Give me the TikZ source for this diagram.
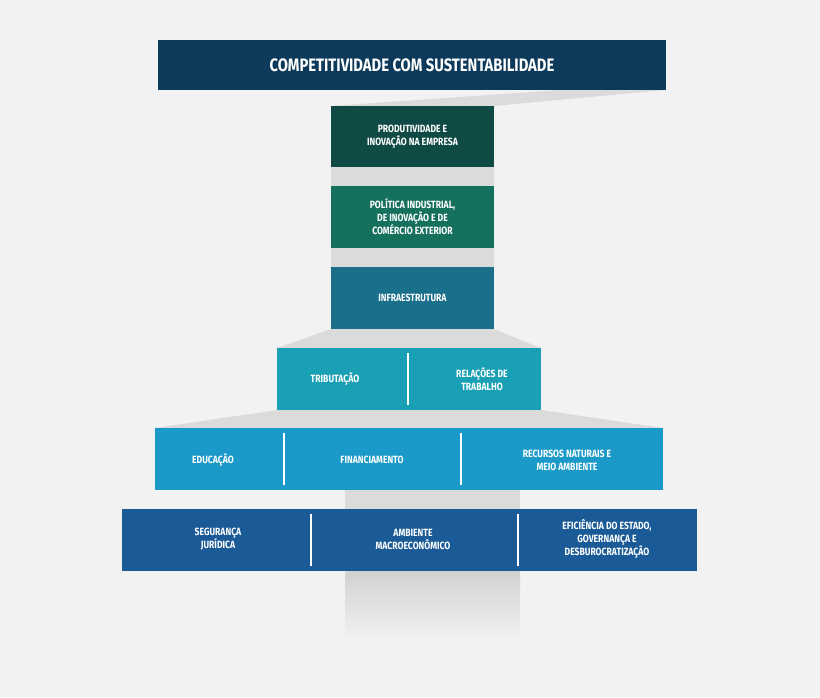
\documentclass[tikz,border=0pt]{standalone}
\usepackage{fontspec}
\setmainfont{Fira Sans}[FakeStretch=0.82]
\begin{document}
\begin{tikzpicture}[x=1pt,y=-1pt,
  bx/.style={draw=none,minimum height=62pt,inner sep=0pt,text=white,font=\bfseries\fontsize{10.5}{13}\selectfont,align=center},
  lab/.style={text=white,font=\bfseries\fontsize{10.5}{13}\selectfont,align=center},
  dv/.style={white,line width=2.2pt},
  rib/.style={fill=black!14}]
\useasboundingbox (0,0) rectangle (820,697);
\fill[black!5] (0,0) rectangle (820,697);
% ribbon
\fill[rib] (560,90) -- (666,90) -- (494,106) -- (331,106) -- cycle;
\fill[rib] (331,167) -- (494,167) -- (494,186) -- (331,186) -- cycle;
\fill[rib] (331,248) -- (494,248) -- (494,267) -- (331,267) -- cycle;
\fill[rib] (331,329) -- (494,329) -- (541,348) -- (277,348) -- cycle;
\fill[rib] (277,410) -- (541,410) -- (663,428) -- (155,428) -- cycle;
\fill[rib] (345,490) -- (520,490) -- (520,509) -- (345,509) -- cycle;
\shade[top color=black!18,bottom color=black!5] (345,571) rectangle (520,640);
\node[bx,fill={rgb,255:red,13;green,58;blue,90},minimum width=508pt,minimum height=50pt,font=\bfseries\fontsize{18}{20}\selectfont] (t) at (412,65) {COMPETITIVIDADE COM SUSTENTABILIDADE};
\node[bx,fill={rgb,255:red,15;green,74;blue,69},minimum width=163pt,minimum height=61pt] (b1) at (412.5,136.5) {PRODUTIVIDADE E\\INOVAÇÃO NA EMPRESA};
\node[bx,fill={rgb,255:red,22;green,112;blue,94},minimum width=163pt] (b2) at (412.5,217) {POLÍTICA INDUSTRIAL,\\DE INOVAÇÃO E DE\\COMÉRCIO EXTERIOR};
\node[bx,fill={rgb,255:red,26;green,111;blue,138},minimum width=163pt] (b3) at (412.5,298) {INFRAESTRUTURA};
\node[bx,fill={rgb,255:red,26;green,160;blue,181},minimum width=264pt] (b4) at (409,379) {};
\node[lab] (b4a) at (335,379) {TRIBUTAÇÃO};
\node[lab] (b4b) at (482,379) {RELAÇÕES DE\\TRABALHO};
\draw[dv] (408,353) -- (408,405);
\node[bx,fill={rgb,255:red,27;green,153;blue,200},minimum width=508pt] (b5) at (409,459) {};
\node[lab] (b5a) at (213,460) {EDUCAÇÃO};
\node[lab] (b5b) at (372,460) {FINANCIAMENTO};
\node[lab] (b5c) at (567,460) {RECURSOS NATURAIS E\\MEIO AMBIENTE};
\draw[dv] (284,433) -- (284,485);
\draw[dv] (461,433) -- (461,485);
\node[bx,fill={rgb,255:red,26;green,90;blue,150},minimum width=575pt] (b6) at (409.5,540) {};
\node[lab] (b6a) at (218,539) {SEGURANÇA\\JURÍDICA};
\node[lab] (b6b) at (413,539) {AMBIENTE\\MACROECONÔMICO};
\node[lab] (b6c) at (607,539) {EFICIÊNCIA DO ESTADO,\\GOVERNANÇA E\\DESBUROCRATIZAÇÃO};
\draw[dv] (311,514) -- (311,566);
\draw[dv] (518,514) -- (518,566);
\end{tikzpicture}
\end{document}
